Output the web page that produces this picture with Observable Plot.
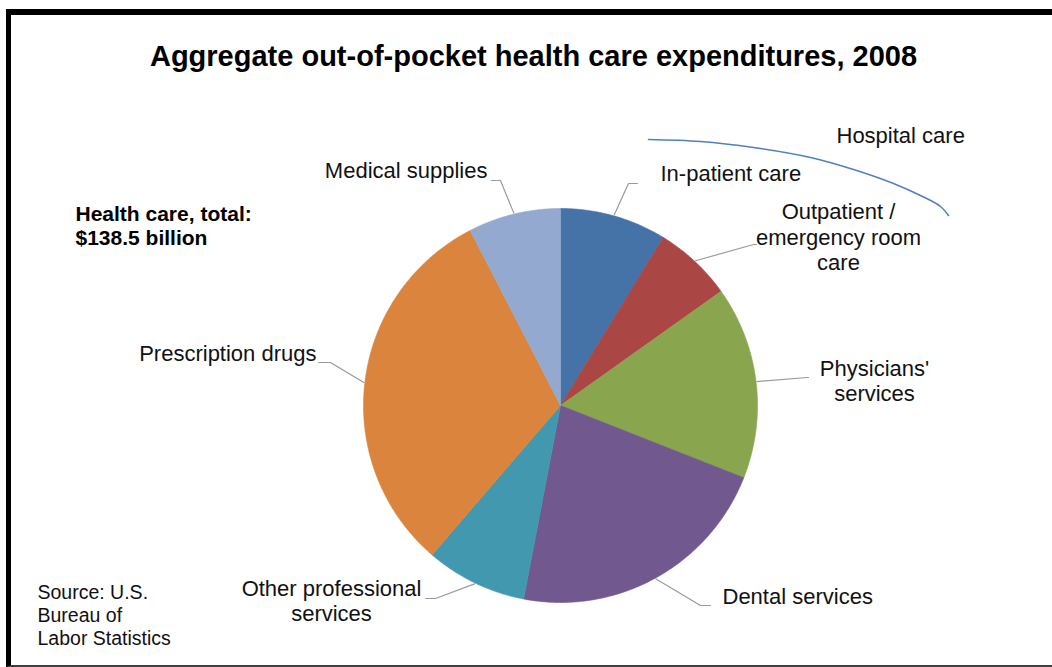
<!DOCTYPE html>
<html>
<head>
<meta charset="utf-8">
<script src="https://cdn.jsdelivr.net/npm/d3@7"></script>
<script src="https://cdn.jsdelivr.net/npm/@observablehq/plot@0.6"></script>
<style>
  html, body { margin: 0; padding: 0; background: #fff; }
  #wrap { position: relative; width: 1052px; height: 667px; overflow: hidden; background: #fff; }
  #frame { position: absolute; left: 6px; top: 9px; width: 1100px; height: 658px; box-sizing: border-box;
           border-left: 5px solid #000; border-top: 6px solid #000; border-bottom: 2px solid #404040; }
  #chart { position: absolute; left: 0; top: 0; }
  #chart svg { font-family: "Liberation Sans", Arial, sans-serif; }
</style>
</head>
<body>
<div id="wrap"><div id="frame"></div><div id="chart"></div></div>
<script>
// ---- data ----
const categories = ["In-patient care", "Outpatient / emergency room care", "Physicians' services",
  "Dental services", "Other professional services", "Prescription drugs", "Medical supplies"];
const values = [12.1, 8.9, 21.9, 30.5, 11.5, 43.1, 10.5]; // $ billions
const labelTexts = ["In-patient care", "Outpatient /\nemergency room\ncare", "Physicians'\nservices",
  "Dental services", "Other professional\nservices", "Prescription drugs", "Medical supplies"];
const groupLabel = "Hospital care";
const titleText = "Aggregate out-of-pocket health care expenditures, 2008";
const totalText = "Health care, total:\n$138.5 billion";
const sourceText = "Source: U.S.\nBureau of\nLabor Statistics";

// ---- style / layout ----
const colors = ["#4572A7", "#AA4643", "#89A54E", "#71588F", "#4198AF", "#DB843D", "#93A9CF"];
const W = 1052, H = 667, CX = 560, CY = 405, R = 197;
const U = px => (px - CX) / R, V = py => (CY - py) / R;
// label layout in pixels: leader elbow, leader end, text position, anchor
const labelLayout = [
  {elbow: [628, 183], end: [637, 183], text: [660, 172], anchor: "start"},
  {elbow: [753, 244], end: [756, 244], text: [838, 236], anchor: "middle"},
  {elbow: [807, 377], end: [808, 377], text: [874, 380], anchor: "middle"},
  {elbow: [700, 605], end: [710, 605], text: [722, 595], anchor: "start"},
  {elbow: [435, 598], end: [425, 598], text: [331, 600], anchor: "middle"},
  {elbow: [330, 362], end: [318, 362], text: [316, 352], anchor: "end"},
  {elbow: [500, 180], end: [491, 180], text: [487, 169], anchor: "end"}
];
const bracketPx = [[648, 139], [700, 141], [753, 147], [810, 157], [853, 169], [893, 183], [922, 196], [940, 206], [948, 215]];

// ---- geometry ----
const arcs = d3.pie().sort(null).value(d => d)(values);
const slicePts = [];
arcs.forEach((a, i) => {
  const cat = categories[i];
  slicePts.push({cat, x: 0, y: 0});
  const n = Math.max(4, Math.ceil((a.endAngle - a.startAngle) / (Math.PI / 360)));
  for (let k = 0; k <= n; k++) {
    const t = a.startAngle + (a.endAngle - a.startAngle) * k / n;
    slicePts.push({cat, x: Math.sin(t), y: Math.cos(t)});
  }
  slicePts.push({cat, x: 0, y: 0});
});
const leaders = [];
arcs.forEach((a, i) => {
  const m = (a.startAngle + a.endAngle) / 2, L = labelLayout[i];
  leaders.push({cat: categories[i], x: Math.sin(m) * 1.005, y: Math.cos(m) * 1.005});
  leaders.push({cat: categories[i], x: U(L.elbow[0]), y: V(L.elbow[1])});
  leaders.push({cat: categories[i], x: U(L.end[0]), y: V(L.end[1])});
});
const labels = labelTexts.map((t, i) => ({text: t, x: U(labelLayout[i].text[0]), y: V(labelLayout[i].text[1]), anchor: labelLayout[i].anchor}));
const bracket = bracketPx.map(([px, py]) => ({x: U(px), y: V(py)}));

const lab = anchor => Plot.text(labels.filter(d => d.anchor === anchor),
  {x: "x", y: "y", text: "text", textAnchor: anchor, fontSize: 22, lineHeight: 1.16, fill: "#111"});

const chart = Plot.plot({
  width: W, height: H, margin: 0,
  x: {domain: [U(0), U(W)], axis: null},
  y: {domain: [V(H), V(0)], axis: null},
  color: {domain: categories, range: colors},
  style: {background: "transparent", fontFamily: "Liberation Sans, Arial, sans-serif"},
  marks: [
    Plot.line(slicePts, {x: "x", y: "y", z: "cat", fill: "cat", stroke: "cat", strokeWidth: 0.6}),
    Plot.line(leaders, {x: "x", y: "y", z: "cat", stroke: "#9a9a9a", strokeWidth: 1.2}),
    Plot.line(bracket, {x: "x", y: "y", stroke: "#4F81BD", strokeWidth: 1.6, curve: "catmull-rom"}),
    lab("start"), lab("middle"), lab("end"),
    Plot.text([groupLabel], {x: U(836), y: V(135), text: d => d, textAnchor: "start", fontSize: 22, fill: "#111"}),
    Plot.text([titleText], {x: U(533), y: V(56), text: d => d, textAnchor: "middle", fontSize: 29, fontWeight: "bold", fill: "#000"}),
    Plot.text([totalText], {x: U(75), y: V(225), text: d => d, textAnchor: "start", fontSize: 21, fontWeight: "bold", lineHeight: 1.15, fill: "#000"}),
    Plot.text([sourceText], {x: U(37), y: V(614), text: d => d, textAnchor: "start", fontSize: 19.5, lineHeight: 1.18, fill: "#111"})
  ]
});
document.getElementById("chart").appendChild(chart);
</script>
</body>
</html>
